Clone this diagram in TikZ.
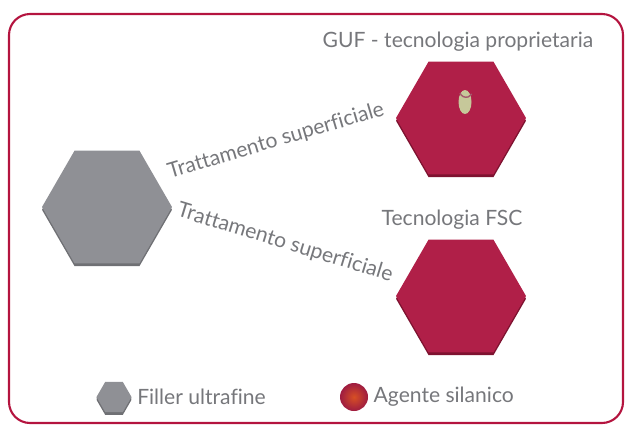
\documentclass[tikz,border=0pt]{standalone}
\usepackage{fontspec}
\setmainfont{Lato}[Ligatures=CommonOff]
\usepackage{tikz}
\usetikzlibrary{positioning,shapes.geometric,shadows}
\definecolor{framered}{HTML}{B4143F}
\definecolor{silred}{HTML}{B01F48}
\definecolor{silreddark}{HTML}{7E1230}
\definecolor{fillgray}{HTML}{8F9095}
\definecolor{fillgraydark}{HTML}{6F7074}
\definecolor{labelgray}{HTML}{76777B}
\definecolor{coregreen}{HTML}{C6C89A}

\begin{document}
\begin{tikzpicture}[
  x=0.02cm, y=-0.02cm,
  node distance=0.2cm,
  hexbase/.style={regular polygon, regular polygon sides=6, inner sep=0pt,
                  minimum size=2.6cm, draw=none},
  grayhex/.style={hexbase, fill=fillgray,
                  general shadow={shadow xshift=0pt, shadow yshift=-1.6pt, fill=fillgraydark}},
  redhex/.style={hexbase, fill=silred,
                 general shadow={shadow xshift=0pt, shadow yshift=-1.6pt, fill=silreddark}},
  txt/.style={text=labelgray, font=\fontsize{12}{14}\selectfont, inner sep=0pt}
]
  \useasboundingbox (0,0) rectangle (625,426);
  \draw[framered, line width=1.2pt, rounded corners=12pt] (9,14) rectangle (623,423);

  % particles
  \node[grayhex] (filler) at (107,207) {};
  \node[redhex] (guf) at (461,118) {};
  \node[redhex] (fsc) at (461,296) {};
  \fill[coregreen] (465,102) ellipse (0.13cm and 0.24cm);
  \draw[silreddark!70, line width=0.8pt] (460,93) arc (200:330:0.13cm);

  \node[txt, above=0.19cm of guf, xshift=-0.06cm] {GUF - tecnologia proprietaria};
  \node[txt, above=0.2cm of fsc, xshift=-0.18cm] {Tecnologia FSC};

  \node[txt, rotate=16.5] (upper) at (276,141) {Trattamento superficiale};
  \node[txt, rotate=-17] (lower) at (285,243) {Trattamento superficiale};

  % legend
  \node[grayhex, minimum size=0.7cm, general shadow={shadow yshift=-0.6pt, fill=fillgraydark}] (leggray) at (114,397) {};
  \node[txt, right=0.1cm of leggray] {Filler ultrafine};
  \node[circle, minimum size=0.56cm, inner sep=0pt, inner color=orange!50!silred,
        outer color=silred!90!black] (legred) at (354,397) {};
  \node[txt, right=0.1cm of legred] {Agente silanico};
\end{tikzpicture}
\end{document}
